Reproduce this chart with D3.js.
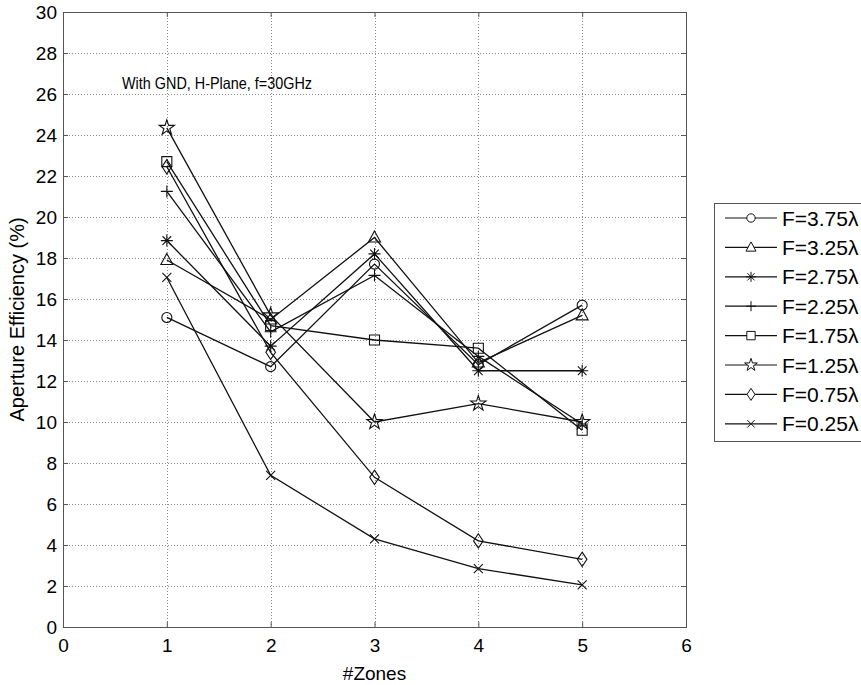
<!DOCTYPE html>
<html>
<head>
<meta charset="utf-8">
<script src="https://cdn.jsdelivr.net/npm/d3@7"></script>
<style>
  html, body { margin: 0; padding: 0; background: #fff; }
  svg { display: block; font-family: "Liberation Sans", Arial, Helvetica, sans-serif; }
</style>
</head>
<body>
<svg id="chart" width="861" height="685"></svg>
<script>
// Number of zones on the x axis
const zones = [1, 2, 3, 4, 5];

// Aperture efficiency (%) per focal distance
const f375 = [15.1, 12.7, 17.7, 12.8, 15.7];
const f325 = [17.9, 15.0, 19.0, 12.9, 15.2];
const f275 = [18.85, 13.7, 18.2, 12.5, 12.5];
const f225 = [21.25, 14.4, 17.15, 13.2, 9.9];
const f175 = [22.7, 14.7, 14.0, 13.6, 9.6];
const f125 = [24.35, 15.2, 10.0, 10.9, 10.0];
const f075 = [22.45, 13.4, 7.3, 4.2, 3.3];
const f025 = [17.05, 7.4, 4.3, 2.85, 2.05];

const seriesNames = ["F=3.75λ", "F=3.25λ", "F=2.75λ", "F=2.25λ", "F=1.75λ", "F=1.25λ", "F=0.75λ", "F=0.25λ"];
const seriesValues = [f375, f325, f275, f225, f175, f125, f075, f025];
const seriesMarkers = ["circle", "triangle", "asterisk", "plus", "square", "star", "diamond", "x"];

const xTicks = [0, 1, 2, 3, 4, 5, 6];
const yTicks = [0, 2, 4, 6, 8, 10, 12, 14, 16, 18, 20, 22, 24, 26, 28, 30];

const titleText = "With GND, H-Plane, f=30GHz";
const xLabel = "#Zones";
const yLabel = "Aperture Efficiency (%)";

const svg = d3.select("#chart");
const plotL = 63, plotR = 686, plotT = 12, plotB = 627;

const x = d3.scaleLinear().domain([0, 6]).range([plotL, plotR]);
const y = d3.scaleLinear().domain([0, 30]).range([plotB, plotT]);

// Dotted grid
const grid = svg.append("g").attr("stroke", "#8a8a8a").attr("stroke-width", 1)
  .attr("stroke-dasharray", "1,2").attr("shape-rendering", "crispEdges");
grid.selectAll("line.gx").data(xTicks.slice(1, -1)).join("line")
  .attr("x1", d => Math.round(x(d)) + 0.5).attr("x2", d => Math.round(x(d)) + 0.5)
  .attr("y1", plotT).attr("y2", plotB);
grid.selectAll("line.gy").data(yTicks.slice(1, -1)).join("line")
  .attr("y1", d => Math.round(y(d)) + 0.5).attr("y2", d => Math.round(y(d)) + 0.5)
  .attr("x1", plotL).attr("x2", plotR);

// Axes with inward ticks on all four sides
const tickLen = 5;
const axisColor = "#555";
function styleAxis(g) {
  g.select(".domain").remove();
  g.selectAll(".tick line").attr("stroke", axisColor);
  g.selectAll(".tick text").attr("fill", "#000").attr("font-size", 19);
}
svg.append("g").attr("transform", `translate(0,${plotB})`)
  .call(d3.axisBottom(x).tickValues(xTicks).tickSizeInner(-tickLen).tickSizeOuter(0).tickPadding(12).tickFormat(d3.format("d")))
  .call(styleAxis);
svg.append("g").attr("transform", `translate(0,${plotT})`)
  .call(d3.axisTop(x).tickValues(xTicks).tickSizeInner(-tickLen).tickSizeOuter(0).tickFormat(""))
  .call(styleAxis);
svg.append("g").attr("transform", `translate(${plotL},0)`)
  .call(d3.axisLeft(y).tickValues(yTicks).tickSizeInner(-tickLen).tickSizeOuter(0).tickPadding(6).tickFormat(d3.format("d")))
  .call(styleAxis);
svg.append("g").attr("transform", `translate(${plotR},0)`)
  .call(d3.axisRight(y).tickValues(yTicks).tickSizeInner(-tickLen).tickSizeOuter(0).tickFormat(""))
  .call(styleAxis);

svg.append("rect").attr("x", plotL + 0.5).attr("y", plotT + 0.5)
  .attr("width", plotR - plotL).attr("height", plotB - plotT)
  .attr("fill", "none").attr("stroke", axisColor).attr("stroke-width", 1);

// Marker shapes
function markerPath(kind, s) {
  switch (kind) {
    case "circle": return d3.symbol(d3.symbolCircle, Math.PI * s * s * 0.7)();
    case "square": return d3.symbol(d3.symbolSquare, s * s * 2.8)();
    case "triangle": return `M0,${-s * 1.1}L${s},${s * 0.75}L${-s},${s * 0.75}Z`;
    case "diamond": return `M0,${-s * 1.2}L${s * 0.8},0L0,${s * 1.2}L${-s * 0.8},0Z`;
    case "star": return d3.symbol(d3.symbolStar, s * s * 2)();
    case "plus": return `M${-s},0H${s}M0,${-s}V${s}`;
    case "x": return `M${-s * 0.75},${-s * 0.75}L${s * 0.75},${s * 0.75}M${-s * 0.75},${s * 0.75}L${s * 0.75},${-s * 0.75}`;
    case "asterisk": {
      const a = s * 0.72;
      return `M${-s},0H${s}M0,${-s}V${s}M${-a},${-a}L${a},${a}M${-a},${a}L${a},${-a}`;
    }
  }
}

const line = d3.line().x((d, i) => x(zones[i])).y(d => y(d));
const plot = svg.append("g");
seriesValues.forEach((vals, k) => {
  plot.append("path").datum(vals).attr("d", line)
    .attr("fill", "none").attr("stroke", "#111").attr("stroke-width", 1.3);
  plot.selectAll(null).data(vals).join("path")
    .attr("transform", (d, i) => `translate(${x(zones[i])},${y(d)})`)
    .attr("d", markerPath(seriesMarkers[k], 6))
    .attr("fill", "none").attr("stroke", "#111").attr("stroke-width", 1.1);
});

// Annotation
svg.append("text").attr("x", 122).attr("y", 89).attr("font-size", 16.5)
  .attr("textLength", 190).attr("lengthAdjust", "spacingAndGlyphs").text(titleText);

// Axis titles
svg.append("text").attr("x", (plotL + plotR) / 2).attr("y", 680)
  .attr("text-anchor", "middle").attr("font-size", 19).text(xLabel);
svg.append("text").attr("transform", `translate(24,${(plotT + plotB) / 2}) rotate(-90)`)
  .attr("text-anchor", "middle").attr("font-size", 20).text(yLabel);

// Legend
const lg = svg.append("g");
const lgX = 714, lgY = 203, lgW = 150, lgH = 238, rowH = 29.4;
lg.append("rect").attr("x", lgX + 0.5).attr("y", lgY + 0.5).attr("width", lgW).attr("height", lgH)
  .attr("fill", "#fff").attr("stroke", axisColor);
seriesNames.forEach((name, k) => {
  const cy = lgY + 15 + k * rowH;
  lg.append("line").attr("x1", lgX + 11).attr("x2", lgX + 63).attr("y1", cy).attr("y2", cy)
    .attr("stroke", "#111").attr("stroke-width", 1.2);
  lg.append("path").attr("transform", `translate(${lgX + 37},${cy})`)
    .attr("d", markerPath(seriesMarkers[k], 5))
    .attr("fill", "#fff").attr("stroke", "#111").attr("stroke-width", 1);
  lg.append("text").attr("x", lgX + 68).attr("y", cy + 7.5).attr("font-size", 21).text(name);
});
</script>
</body>
</html>
